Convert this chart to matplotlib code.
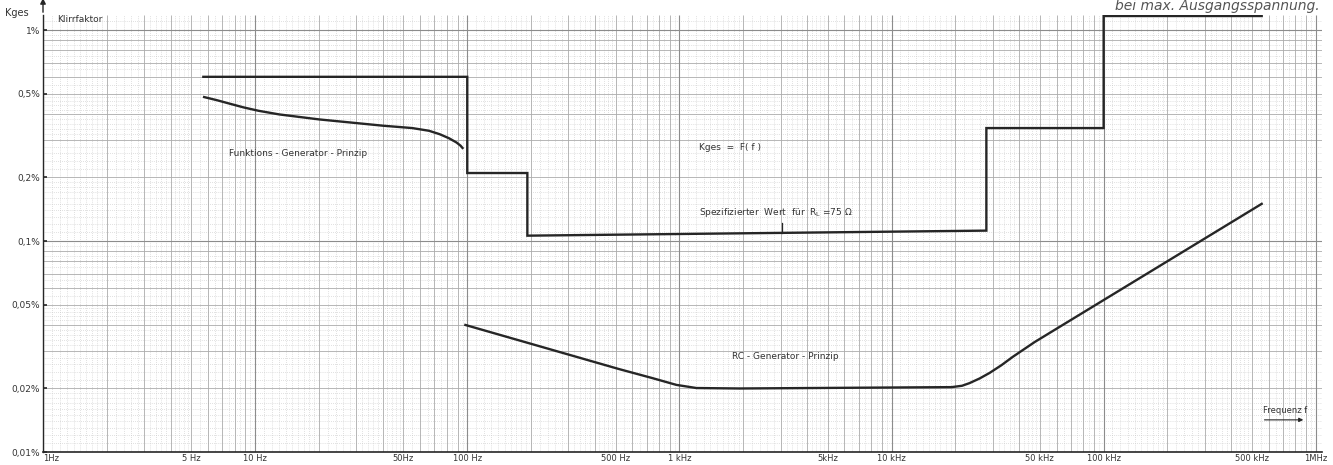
"""Klirrfaktor Kges = F(f) -- Funktions- vs. RC-Generator, on log-log graph paper."""
import numpy as np
import matplotlib.pyplot as plt

# specified limit (step line), frequency in Hz, distortion in %
spec_f = [5.7, 100, 100, 192, 192, 28000, 28000, 100000, 100000, 556000]
spec_k = [0.60, 0.60, 0.21, 0.21, 0.106, 0.112, 0.343, 0.343, 1.165, 1.165]

# function generator principle
func_f = [5.75, 6.6, 7.5, 8.8, 10.4, 13, 20, 40, 55, 66, 74, 82, 89, 93, 95]
func_k = [0.481, 0.465, 0.449, 0.430, 0.414, 0.398, 0.377, 0.352, 0.343,
          0.333, 0.321, 0.307, 0.293, 0.283, 0.276]

# RC generator principle
rc_f = [98, 521, 746, 968, 1203, 1919, 19200, 21500, 23300, 26000, 29000,
        33000, 37200, 47300, 556000]
rc_k = [0.040, 0.0247, 0.0224, 0.0208, 0.0201, 0.0200, 0.0203, 0.0206, 0.0212,
        0.0223, 0.0237, 0.0258, 0.0282, 0.0332, 0.150]

x_ticks = [1, 5, 10, 50, 100, 500, 1000, 5000, 10000, 50000, 100000, 500000, 1000000]
x_labels = ['1Hz', '5 Hz', '10 Hz', '50Hz', '100 Hz', '500 Hz', '1 kHz', '5kHz',
            '10 kHz', '50 kHz', '100 kHz', '500 kHz', '1MHz']
y_ticks = [1, 0.5, 0.2, 0.1, 0.05, 0.02, 0.01]
y_labels = ['1%', '0,5%', '0,2%', '0,1%', '0,05%', '0,02%', '0,01%']


def paper_lines(lo_dec, hi_dec):
    """Return decade, main and fine line positions of log graph paper."""
    decades, main, fine = [], [], []
    for d in range(lo_dec, hi_dec):
        base = 10.0 ** d
        decades.append(base)
        for m in range(1, 10):
            if m > 1:
                main.append(m * base)
            step = 0.1 if m < 2 else (0.2 if m < 5 else 0.5)
            for k in np.arange(m + step, m + 1 - 1e-9, step):
                fine.append(k * base)
    return decades, main, fine


fig = plt.figure(figsize=(13.33, 4.65), dpi=100)
ax = fig.add_axes([43 / 1333, 13 / 465, 1279 / 1333, 437 / 465])
ax.set_xscale('log')
ax.set_yscale('log')
ax.set_xlim(1, 1.07e6)
ax.set_ylim(0.01, 1.178)

# graph paper
xd, xm, xf = paper_lines(0, 7)
yd, ym, yf = paper_lines(-2, 1)
xt = ax.get_xaxis_transform()
yt = ax.get_yaxis_transform()
ax.vlines(xf, 0, 1, transform=xt, colors='#c4c4c4', lw=0.5, linestyles=(0, (1, 2)), zorder=0)
ax.hlines(yf, 0, 1, transform=yt, colors='#c4c4c4', lw=0.5, linestyles=(0, (1, 2)), zorder=0)
ax.vlines(xm, 0, 1, transform=xt, colors='#ababab', lw=0.6, zorder=0)
ax.hlines(ym, 0, 1, transform=yt, colors='#ababab', lw=0.6, zorder=0)
ax.vlines(xd, 0, 1, transform=xt, colors='#8c8c8c', lw=0.8, zorder=0)
ax.hlines(yd, 0, 1, transform=yt, colors='#8c8c8c', lw=0.8, zorder=0)

# curves
ink = '#262626'
ax.plot(spec_f, spec_k, color=ink, lw=1.7, solid_joinstyle='miter')
ax.plot(func_f, func_k, color=ink, lw=1.7)
ax.plot(rc_f, rc_k, color=ink, lw=1.7)
ax.plot([3060, 3060], [0.122, 0.109], color=ink, lw=0.9)

# axes styling
for side in ['top', 'right']:
    ax.spines[side].set_visible(False)
ax.spines['left'].set_color(ink)
ax.spines['bottom'].set_color(ink)
ax.spines['left'].set_linewidth(1.0)
ax.spines['bottom'].set_linewidth(1.2)
ax.set_xticks(x_ticks)
ax.set_xticklabels(x_labels)
ax.set_yticks(y_ticks)
ax.set_yticklabels(y_labels)
ax.minorticks_off()
ax.tick_params(axis='x', length=0, pad=1.5, labelsize=6, labelcolor='#333333')
ax.tick_params(axis='y', length=3, direction='in', width=1.2, pad=2,
               labelsize=6.5, labelcolor='#333333', color=ink)
ax.get_xticklabels()[0].set_horizontalalignment('left')

# y-axis arrow and heading
ax.annotate('', xy=(0, 1.045), xytext=(0, 1.0), xycoords='axes fraction',
            arrowprops=dict(arrowstyle='-|>', color=ink, lw=1.0, mutation_scale=8))
fig.text(5 / 1333, 1 - 13 / 465, 'Kges', fontsize=7, color='#333333', va='center')
fig.text(57 / 1333, 1 - 20 / 465, 'Klirrfaktor', fontsize=6.5, color='#333333', va='center')
fig.text(1320 / 1333, 1 - 10 / 465, 'bei max. Ausgangsspannung.', fontsize=10,
         style='italic', color='#555555', ha='right', va='baseline')

# annotations in the plot
txt = dict(fontsize=6.5, color='#333333', va='center', ha='left')
ax.text(7.5, 0.261, 'Funktions - Generator - Prinzip', **txt)
ax.text(1243, 0.276, 'Kges  =  F( f )', **txt)
ax.text(1243, 0.136, r'Spezifizierter  Wert  für  R$_\mathrm{L}$ =75 $\Omega$', **txt)
ax.text(1778, 0.0282, 'RC - Generator - Prinzip', **txt)
ax.text(714000, 0.0158, 'Frequenz f', fontsize=6, color='#333333', ha='center', va='center')
ax.annotate('', xy=(900000, 0.0142), xytext=(556000, 0.0142),
            arrowprops=dict(arrowstyle='-|>', color=ink, lw=0.8, mutation_scale=6))

fig.savefig('out.png', dpi=100, facecolor='white')
